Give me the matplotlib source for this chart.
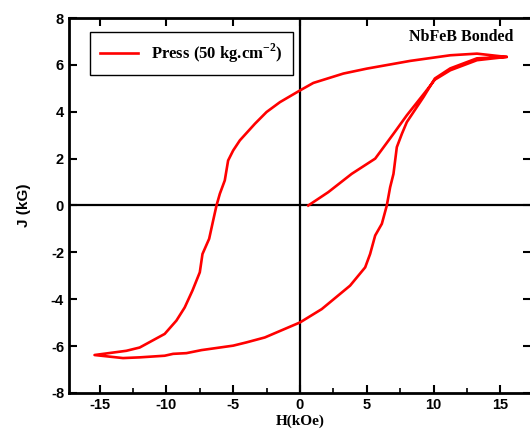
import matplotlib
matplotlib.use("Agg")
import matplotlib.pyplot as plt
from matplotlib.ticker import MultipleLocator

# Virgin curve, descending branch, ascending branch (H in kOe, J in kG)
H_virgin = [0.62, 2.12, 3.87, 5.63, 7.0, 8.0, 9.38, 10.1, 11.25, 13.25, 15.45]
J_virgin = [0.0, 0.57, 1.35, 2.0, 3.06, 3.85, 4.84, 5.37, 5.77, 6.2, 6.34]

H_desc = [15.45, 13.25, 11.25, 8.25, 5.0, 3.25, 1.0, 0.0, -1.5, -2.5, -3.37, -4.5, -5.0,
          -5.38, -5.63, -6.0, -6.25, -6.5, -6.8, -7.3, -7.5, -8.05, -8.63, -9.25,
          -10.13, -12.0, -13.0, -15.38]
J_desc = [6.34, 6.48, 6.41, 6.17, 5.84, 5.63, 5.23, 4.91, 4.41, 3.99, 3.49, 2.78, 2.35,
          1.92, 1.07, 0.5, 0.0, -0.64, -1.42, -2.07, -2.85, -3.63, -4.35, -4.91,
          -5.48, -6.06, -6.2, -6.38]

H_asc = [-15.38, -13.25, -12.0, -10.13, -9.5, -8.5, -7.37, -5.0, -4.0, -2.63, 0.0, 1.63,
         3.75, 4.88, 5.25, 5.63, 6.13, 6.5, 6.75, 7.0, 7.25, 7.63, 8.0, 9.25, 10.1,
         11.25, 13.25, 15.45]
J_asc = [-6.38, -6.51, -6.48, -6.41, -6.33, -6.3, -6.17, -5.98, -5.84, -5.63, -4.99, -4.42,
         -3.42, -2.64, -2.07, -1.28, -0.78, 0.0, 0.78, 1.35, 2.49, 3.06, 3.56, 4.63, 5.42,
         5.85, 6.28, 6.34]

H = H_virgin + H_desc[1:] + H_asc[1:]
J = J_virgin + J_desc[1:] + J_asc[1:]

legend_label = r"Press (50 kg.cm$^{\mathbf{-2}}$)"
sample_label = "NbFeB Bonded"
x_ticks = [-15, -10, -5, 0, 5, 10, 15]
y_ticks = [-8, -6, -4, -2, 0, 2, 4, 6, 8]

plt.rcParams['axes.unicode_minus'] = False
plt.rcParams['mathtext.fontset'] = 'custom'
plt.rcParams['mathtext.bf'] = 'Liberation Serif:bold'
plt.rcParams['mathtext.rm'] = 'Liberation Serif:bold'

fig = plt.figure(figsize=(5.3, 4.34), dpi=100)
ax = fig.add_axes([0.130, 0.0945, 0.872, 0.864])

ax.axhline(0, color="black", lw=1.6, zorder=1)
ax.axvline(0, color="black", lw=1.6, zorder=1)
ax.plot(H, J, color="red", lw=1.9, label=legend_label, zorder=3)

ax.set_xlim(-17.3, 17.3)
ax.set_ylim(-8, 8)
ax.set_xticks(x_ticks)
ax.set_yticks(y_ticks)
ax.xaxis.set_minor_locator(MultipleLocator(2.5))

for s in ax.spines.values():
    s.set_linewidth(2.0)

ax.tick_params(axis="both", which="major", direction="in", length=6, width=1.5,
               top=True, right=True, labelsize=10.5)
ax.tick_params(axis="x", which="minor", direction="in", length=3.5, width=1.2,
               top=False, bottom=True)
for lab in ax.get_xticklabels() + ax.get_yticklabels():
    lab.set_fontfamily("Liberation Sans")
    lab.set_fontweight("bold")

ax.set_xlabel("H(kOe)", fontfamily="Liberation Serif", fontweight="bold", fontsize=11, labelpad=2)
ax.set_ylabel("J (kG)", fontfamily="Liberation Sans", fontweight="bold", fontsize=11, labelpad=14)

ax.text(16.0, 7.2, sample_label, ha="right", va="center", fontfamily="Liberation Serif",
        fontweight="bold", fontsize=11.5)

leg = ax.legend(loc="upper left", bbox_to_anchor=(0.045, 0.963), borderaxespad=0,
                prop={"family": "Liberation Serif", "weight": "bold", "size": 12},
                fancybox=False, edgecolor="black", framealpha=1, handlelength=2.3,
                borderpad=0.6)
leg.get_frame().set_linewidth(1.0)

fig.savefig("out.png", dpi=100)
